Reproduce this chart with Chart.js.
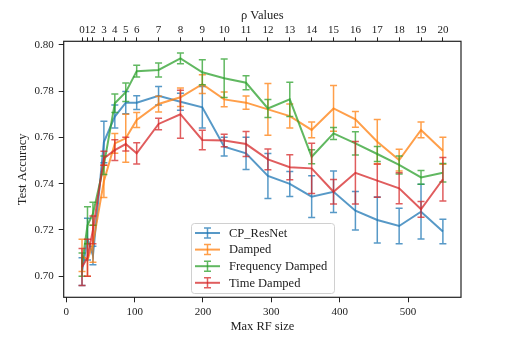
<!DOCTYPE html>
<html>
<head>
<meta charset="utf-8">
<script src="https://cdn.jsdelivr.net/npm/chart.js@4.4.1/dist/chart.umd.min.js"></script>
<style>
  html, body { margin: 0; padding: 0; background: #fff; }
  #chart { display: block; }
</style>
</head>
<body>
<canvas id="chart" width="512" height="342"></canvas>
<script>
// max receptive field size for each rho value
const rfSizes = [23, 31, 39, 55, 71, 87, 103, 135, 167, 199, 231, 263, 295, 327, 359, 391, 423, 455, 487, 519, 551];
const rhoLabels = ['0', '1', '2', '3', '4', '5', '6', '7', '8', '9', '10', '11', '12', '13', '14', '15', '16', '17', '18', '19', '20'];
const xTicks = [0, 100, 200, 300, 400, 500];
const yTicks = [0.70, 0.72, 0.74, 0.76, 0.78, 0.80];

const seriesNames = ['CP_ResNet', 'Damped', 'Frequency Damped', 'Time Damped'];

const cpResnet = [0.702, 0.716, 0.709, 0.758, 0.769, 0.775, 0.775, 0.778, 0.7754, 0.773, 0.756, 0.7531, 0.7433, 0.7399, 0.7344, 0.7365, 0.7283, 0.7243, 0.7217, 0.7279, 0.7193];
const cpResnetErr = [0.006, 0.009, 0.004, 0.009, 0.005, 0.0048, 0.003, 0.004, 0.0037, 0.009, 0.004, 0.007, 0.0097, 0.0054, 0.009, 0.009, 0.0083, 0.0099, 0.0077, 0.0118, 0.0053];

const damped = [0.709, 0.707, 0.714, 0.741, 0.7574, 0.7596, 0.7675, 0.7744, 0.7773, 0.783, 0.7764, 0.775, 0.7721, 0.7692, 0.7632, 0.7725, 0.7678, 0.7581, 0.7502, 0.7632, 0.7542];
const dampedErr = [0.007, 0.007, 0.008, 0.007, 0.0043, 0.0104, 0.0032, 0.0034, 0.004, 0.004, 0.0032, 0.0029, 0.0112, 0.0052, 0.0034, 0.0099, 0.0034, 0.0096, 0.0047, 0.0034, 0.0058];

const freqDamped = [0.705, 0.722, 0.727, 0.748, 0.7747, 0.7795, 0.7886, 0.7891, 0.7941, 0.7881, 0.7855, 0.7836, 0.7725, 0.7764, 0.7516, 0.7617, 0.7574, 0.7528, 0.7481, 0.7427, 0.7447];
const freqDampedErr = [0.005, 0.008, 0.005, 0.004, 0.004, 0.004, 0.0025, 0.003, 0.0023, 0.0054, 0.0083, 0.003, 0.0039, 0.0074, 0.003, 0.0026, 0.005, 0.0032, 0.0039, 0.003, 0.004];

const timeDamped = [0.704, 0.708, 0.720, 0.751, 0.7545, 0.7571, 0.7531, 0.7658, 0.770, 0.7589, 0.7586, 0.7571, 0.7505, 0.7471, 0.7466, 0.7365, 0.7447, 0.7413, 0.738, 0.7289, 0.7419];
const timeDampedErr = [0.008, 0.008, 0.006, 0.003, 0.0045, 0.003, 0.0046, 0.0025, 0.0104, 0.0042, 0.0027, 0.0054, 0.0045, 0.0054, 0.0109, 0.0053, 0.0135, 0.0072, 0.0067, 0.0034, 0.0094];

const colors = ['rgba(31,119,180,0.75)', 'rgba(255,127,14,0.75)', 'rgba(44,160,44,0.75)', 'rgba(214,39,40,0.75)'];
const allMeans = [cpResnet, damped, freqDamped, timeDamped];
const allErrs = [cpResnetErr, dampedErr, freqDampedErr, timeDampedErr];

const serif = '"Liberation Serif", "Times New Roman", serif';
const ink = '#222';

// error bars, drawn right after each line so the stacking follows the series order
const errorBars = {
  id: 'errorBars',
  afterDatasetDraw(chart, args) {
    const errs = allErrs[args.index];
    const vals = allMeans[args.index];
    const ys = chart.scales.y;
    const ctx = chart.ctx;
    ctx.save();
    ctx.strokeStyle = colors[args.index];
    ctx.lineWidth = 1.5;
    args.meta.data.forEach((pt, i) => {
      const top = ys.getPixelForValue(vals[i] + errs[i]);
      const bot = ys.getPixelForValue(vals[i] - errs[i]);
      ctx.beginPath();
      ctx.moveTo(pt.x, top); ctx.lineTo(pt.x, bot);
      ctx.moveTo(pt.x - 3.5, top); ctx.lineTo(pt.x + 3.5, top);
      ctx.moveTo(pt.x - 3.5, bot); ctx.lineTo(pt.x + 3.5, bot);
      ctx.stroke();
    });
    ctx.restore();
  }
};

// axes frame + legend box inside the plot
const frameAndLegend = {
  id: 'frameAndLegend',
  afterDraw(chart) {
    const {ctx, chartArea: a} = chart;
    ctx.save();
    ctx.strokeStyle = ink;
    ctx.lineWidth = 1.2;
    ctx.strokeRect(a.left, a.top, a.right - a.left, a.bottom - a.top);

    const bx = 191, by = 223, bw = 143, bh = 70;
    ctx.beginPath();
    ctx.roundRect(bx + 0.5, by + 0.5, bw, bh, 3);
    ctx.fillStyle = 'rgba(255,255,255,0.8)';
    ctx.fill();
    ctx.strokeStyle = '#d0d0d0';
    ctx.lineWidth = 1;
    ctx.stroke();

    ctx.font = '12.5px ' + serif;
    ctx.textBaseline = 'middle';
    ctx.textAlign = 'left';
    seriesNames.forEach((name, i) => {
      const cy = by + 10 + i * 16.6;
      ctx.strokeStyle = colors[i];
      ctx.lineWidth = 2;
      ctx.beginPath();
      ctx.moveTo(195, cy); ctx.lineTo(220, cy);
      ctx.stroke();
      ctx.lineWidth = 1.5;
      ctx.beginPath();
      ctx.moveTo(207.5, cy - 5); ctx.lineTo(207.5, cy + 5);
      ctx.moveTo(204, cy - 5); ctx.lineTo(211, cy - 5);
      ctx.moveTo(204, cy + 5); ctx.lineTo(211, cy + 5);
      ctx.stroke();
      ctx.fillStyle = ink;
      ctx.fillText(name, 229, cy + 0.5);
    });
    ctx.restore();
  }
};

const ctx = document.getElementById('chart');

new Chart(ctx, {
  type: 'line',
  data: {
    datasets: seriesNames.map((name, k) => ({
      label: name,
      data: rfSizes.map((x, i) => ({x: x, y: allMeans[k][i]})),
      borderColor: colors[k],
      borderWidth: 2,
      pointRadius: 0,
      tension: 0,
      fill: false,
      order: 3 - k
    }))
  },
  options: {
    responsive: false,
    animation: false,
    events: [],
    layout: { padding: { left: 0, right: 51, top: 0, bottom: 0 } },
    plugins: {
      legend: { display: false },
      tooltip: { enabled: false }
    },
    scales: {
      x: {
        type: 'linear',
        position: 'bottom',
        min: -3.8,
        max: 577.5,
        afterFit: s => { s.height = 44.7; },
        afterBuildTicks: s => { s.ticks = xTicks.map(v => ({value: v})); },
        grid: { display: true, drawOnChartArea: false, drawTicks: true, tickLength: 5, color: ink },
        border: { display: false },
        ticks: { color: ink, font: { family: serif, size: 11 }, padding: 3, maxRotation: 0, autoSkip: false },
        title: { display: true, text: 'Max RF size', color: ink, font: { family: serif, size: 12.5 }, padding: { top: 0, bottom: 8 } }
      },
      xTop: {
        type: 'linear',
        position: 'top',
        min: -3.8,
        max: 577.5,
        afterFit: s => { s.height = 41.3; },
        afterBuildTicks: s => { s.ticks = rfSizes.map(v => ({value: v})); },
        grid: { display: true, drawOnChartArea: false, drawTicks: true, tickLength: 4, color: ink },
        border: { display: false },
        ticks: {
          color: ink, font: { family: serif, size: 11 }, padding: 1, maxRotation: 0, autoSkip: false,
          callback: (v, i) => rhoLabels[i]
        },
        title: { display: true, text: 'ρ Values', color: ink, font: { family: serif, size: 12.5 }, padding: { top: 8, bottom: 0 } }
      },
      y: {
        type: 'linear',
        position: 'left',
        min: 0.6909,
        max: 0.8015,
        afterFit: s => { s.width = 63.7; },
        afterBuildTicks: s => { s.ticks = yTicks.map(v => ({value: v})); },
        grid: { display: true, drawOnChartArea: false, drawTicks: true, tickLength: 5, color: ink },
        border: { display: false },
        ticks: { color: ink, font: { family: serif, size: 11 }, padding: 5, callback: v => v.toFixed(2) },
        title: { display: true, text: 'Test Accuracy', color: ink, font: { family: serif, size: 12.5 }, padding: { top: 15, bottom: 0 } }
      }
    }
  },
  plugins: [errorBars, frameAndLegend]
});
</script>
</body>
</html>
